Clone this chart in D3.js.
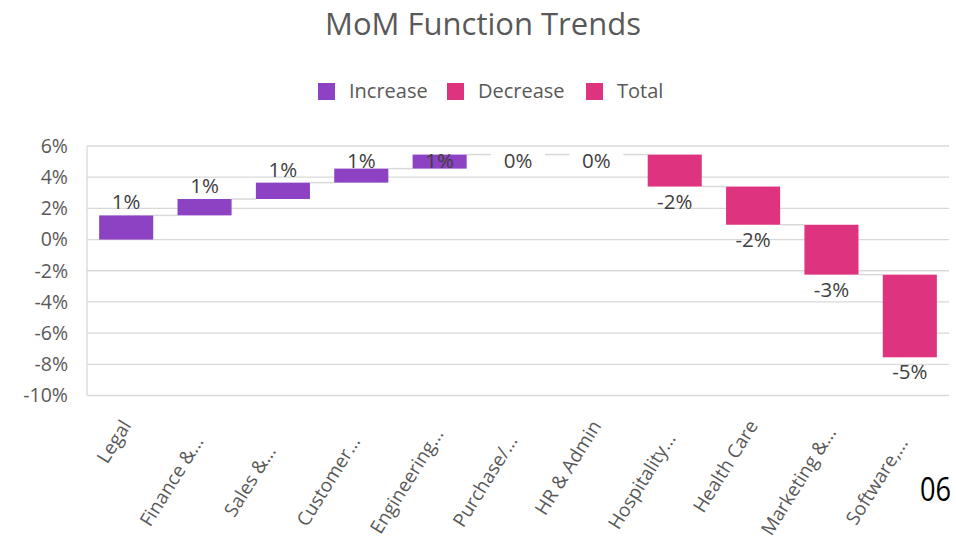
<!DOCTYPE html>
<html>
<head>
<meta charset="utf-8">
<script src="https://cdn.jsdelivr.net/npm/d3@7"></script>
<style>
  body { margin: 0; background: #fff; }
  svg { display: block; font-family: "Open Sans", sans-serif; }
</style>
</head>
<body>
<div id="chart"></div>
<script>
// data (percent points)
const categories = ["Legal", "Finance &...", "Sales &...", "Customer...", "Engineering...", "Purchase/...", "HR & Admin", "Hospitality...", "Health Care", "Marketing &...", "Software,..."];
const changes = [1.55, 1.05, 1.05, 0.9, 0.9, 0, 0, -2.05, -2.45, -3.2, -5.3];
const dataLabels = ["1%", "1%", "1%", "1%", "1%", "0%", "0%", "-2%", "-2%", "-3%", "-5%"];
const yTicks = [6, 4, 2, 0, -2, -4, -6, -8, -10];
const legendItems = ["Increase", "Decrease", "Total"];

const colors = { Increase: "#8C42C2", Decrease: "#DE3480", Total: "#DE3480" };

const width = 956, height = 537;
const svg = d3.select("#chart").append("svg")
  .attr("width", width)
  .attr("height", height);

// running totals -> start / end of every step
let run = 0;
const steps = changes.map((v, i) => {
  const start = run;
  run += v;
  return { name: categories[i], value: v, start: start, end: run, label: dataLabels[i] };
});

const x = d3.scaleBand()
  .domain(categories)
  .range([87, 949])
  .paddingInner(0.31)
  .paddingOuter(0.155);

const y = d3.scaleLinear()
  .domain([-10, 6])
  .range([395.5, 146]);

// title
svg.append("text")
  .attr("x", 483)
  .attr("y", 35)
  .attr("text-anchor", "middle")
  .attr("font-size", "31px")
  .attr("fill", "#595959")
  .text("MoM Function Trends");

// legend
const legendX = [318, 447, 586];
const legend = svg.selectAll(".legend")
  .data(legendItems)
  .join("g")
  .attr("class", "legend")
  .attr("transform", (d, i) => `translate(${legendX[i]},83)`);
legend.append("rect")
  .attr("width", 17)
  .attr("height", 17)
  .attr("fill", d => colors[d]);
legend.append("text")
  .attr("x", 31)
  .attr("y", 15)
  .attr("font-size", "20px")
  .attr("fill", "#595959")
  .text(d => d);

// grid lines
svg.append("g")
  .selectAll("line")
  .data(yTicks)
  .join("line")
  .attr("x1", 87)
  .attr("x2", 949)
  .attr("y1", d => y(d))
  .attr("y2", d => y(d))
  .attr("stroke", "#d9d9d9")
  .attr("stroke-width", 1.3);

// left edge of plot
svg.append("line")
  .attr("x1", 87).attr("x2", 87)
  .attr("y1", y(6)).attr("y2", y(-10))
  .attr("stroke", "#d9d9d9")
  .attr("stroke-width", 1.3);

// y axis labels
const yAxis = svg.append("g")
  .attr("transform", "translate(68,0)")
  .call(d3.axisLeft(y).tickValues(yTicks).tickSize(0).tickPadding(0).tickFormat(d => d + "%"));
yAxis.select(".domain").remove();
yAxis.selectAll("text")
  .attr("font-family", "Open Sans, sans-serif")
  .attr("font-size", "19.5px")
  .attr("fill", "#595959");

// connectors between steps
svg.append("g")
  .selectAll("line")
  .data(steps.slice(0, -1))
  .join("line")
  .attr("x1", d => x(d.name) + x.bandwidth())
  .attr("x2", (d, i) => x(steps[i + 1].name))
  .attr("y1", d => y(d.end))
  .attr("y2", d => y(d.end))
  .attr("stroke", "#d9d9d9")
  .attr("stroke-width", 1.5);

// bars
svg.append("g")
  .selectAll("rect")
  .data(steps.filter(d => d.value !== 0))
  .join("rect")
  .attr("x", d => x(d.name))
  .attr("width", x.bandwidth())
  .attr("y", d => y(Math.max(d.start, d.end)))
  .attr("height", d => Math.abs(y(d.start) - y(d.end)))
  .attr("fill", d => d.value > 0 ? colors.Increase : colors.Decrease);

// data labels: above for increases, below for decreases, kept inside the plot
const labelTop = y(6) + 22;
svg.append("g")
  .selectAll("text")
  .data(steps)
  .join("text")
  .attr("x", d => x(d.name) + x.bandwidth() / 2)
  .attr("y", d => d.value < 0
    ? y(Math.min(d.start, d.end)) + 22
    : Math.max(y(Math.max(d.start, d.end)) - 6, labelTop))
  .attr("text-anchor", "middle")
  .attr("font-size", "20.5px")
  .attr("fill", "#404040")
  .text(d => d.label);

// category labels, rotated; truncated ones sit centred in the label box (like Excel)
const truncated = d => d.endsWith("...");
svg.append("g")
  .selectAll("text")
  .data(categories)
  .join("text")
  .attr("transform", d => {
    const cx = x(d) + x.bandwidth() / 2;
    return truncated(d)
      ? `translate(${cx - 33},481) rotate(-58)`
      : `translate(${cx},422) rotate(-58)`;
  })
  .attr("text-anchor", d => truncated(d) ? "middle" : "end")
  .attr("dy", "0.35em")
  .attr("font-size", "19px")
  .attr("fill", "#595959")
  .text(d => d);

// slide number
svg.append("text")
  .attr("transform", "translate(951,501) scale(0.85,1)")
  .attr("text-anchor", "end")
  .attr("font-size", "32px")
  .attr("fill", "#000")
  .text("06");
</script>
</body>
</html>
